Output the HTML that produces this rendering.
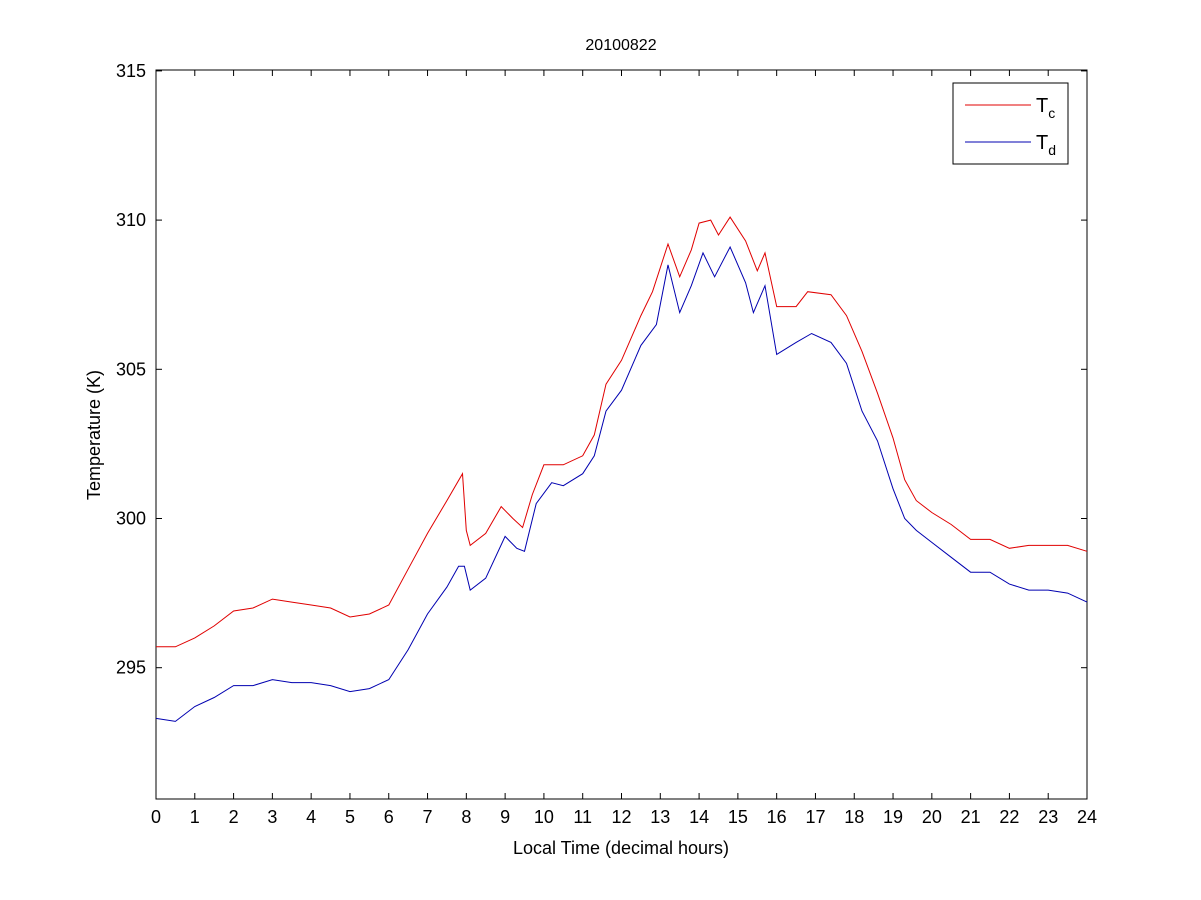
<!DOCTYPE html>
<html><head><meta charset="utf-8"><style>
body{margin:0;background:#fff;}
svg{display:block;font-family:"Liberation Sans",Arial,sans-serif;}
</style></head><body>
<svg id="chart" width="1201" height="900">
<rect x="0" y="0" width="1201" height="900" fill="#fff"/>
<rect x="156" y="70" width="931" height="729" fill="#fff" stroke="#000" stroke-width="1"/>
<g id="ticks"></g>
<g id="series"></g>
<text x="621" y="50" font-size="16" text-anchor="middle">20100822</text>
<text x="621" y="854" font-size="18" text-anchor="middle">Local Time (decimal hours)</text>
<text x="100" y="435" font-size="18" text-anchor="middle" transform="rotate(-90 100 435)">Temperature (K)</text>
<g>
<rect x="953" y="83" width="115" height="81" fill="#fff" stroke="#000"/>
<line x1="965" y1="105" x2="1031" y2="105" stroke="#e00000"/>
<text x="1036" y="112" font-size="20">T<tspan font-size="14" dy="6">c</tspan></text>
<line x1="965" y1="142" x2="1031" y2="142" stroke="#0000b0"/>
<text x="1036" y="149" font-size="20">T<tspan font-size="14" dy="6">d</tspan></text>
</g>
</svg>
<script>
const tcHours=[0,0.5,1,1.5,2,2.5,3,3.5,4,4.5,5,5.5,6,6.5,7,7.5,7.9,8.0,8.1,8.5,8.9,9.2,9.45,9.7,10,10.5,11,11.3,11.6,12,12.5,12.8,13.2,13.5,13.8,14,14.3,14.5,14.8,15.2,15.5,15.7,16,16.5,16.8,17.4,17.8,18.2,18.6,19,19.3,19.6,20,20.5,21,21.5,22,22.5,23,23.5,24];
const tcValues=[295.7,295.7,296.0,296.4,296.9,297.0,297.3,297.2,297.1,297.0,296.7,296.8,297.1,298.3,299.5,300.6,301.5,299.6,299.1,299.5,300.4,300.0,299.7,300.8,301.8,301.8,302.1,302.8,304.5,305.3,306.8,307.6,309.2,308.1,309.0,309.9,310.0,309.5,310.1,309.3,308.3,308.9,307.1,307.1,307.6,307.5,306.8,305.6,304.2,302.7,301.3,300.6,300.2,299.8,299.3,299.3,299.0,299.1,299.1,299.1,298.9];
const tdHours=[0,0.5,1,1.5,2,2.5,3,3.5,4,4.5,5,5.5,6,6.5,7,7.5,7.8,7.95,8.1,8.5,9.0,9.3,9.5,9.8,10.2,10.5,11,11.3,11.6,12,12.5,12.9,13.2,13.5,13.8,14.1,14.4,14.8,15.2,15.4,15.7,16,16.5,16.9,17.4,17.8,18.2,18.6,19,19.3,19.6,20,20.5,21,21.5,22,22.5,23,23.5,24];
const tdValues=[293.3,293.2,293.7,294.0,294.4,294.4,294.6,294.5,294.5,294.4,294.2,294.3,294.6,295.6,296.8,297.7,298.4,298.4,297.6,298.0,299.4,299.0,298.9,300.5,301.2,301.1,301.5,302.1,303.6,304.3,305.8,306.5,308.5,306.9,307.8,308.9,308.1,309.1,307.9,306.9,307.8,305.5,305.9,306.2,305.9,305.2,303.6,302.6,301.0,300.0,299.6,299.2,298.7,298.2,298.2,297.8,297.6,297.6,297.5,297.2];
const xTicks=[0,1,2,3,4,5,6,7,8,9,10,11,12,13,14,15,16,17,18,19,20,21,22,23,24];
const yTicks=[295,300,305,310,315];
const X0=156,X1=1087,Y0=799,Y1=70,XMIN=0,XMAX=24,YMIN=290.6,YMAX=315.03;
function xs(v){return X0+(v-XMIN)/(XMAX-XMIN)*(X1-X0);}
function ys(v){return Y0-(v-YMIN)/(YMAX-YMIN)*(Y0-Y1);}
const NS="http://www.w3.org/2000/svg";
const tg=document.getElementById('ticks');
xTicks.forEach(t=>{
  const x=xs(t);
  [[Y0,Y0-6],[Y1,Y1+6]].forEach(p=>{const l=document.createElementNS(NS,'line');l.setAttribute('x1',x);l.setAttribute('x2',x);l.setAttribute('y1',p[0]);l.setAttribute('y2',p[1]);l.setAttribute('stroke','#000');
  
  
  tg.appendChild(l);});
  const tx=document.createElementNS(NS,'text');tx.setAttribute('x',x);tx.setAttribute('y',Y0+24);tx.setAttribute('font-size','18');tx.setAttribute('text-anchor','middle');tx.textContent=t;
  
  
  tg.appendChild(tx);
});
yTicks.forEach(t=>{
  const y=ys(t);
  [[X0,X0+6],[X1,X1-6]].forEach(p=>{const l=document.createElementNS(NS,'line');l.setAttribute('y1',y);l.setAttribute('y2',y);l.setAttribute('x1',p[0]);l.setAttribute('x2',p[1]);l.setAttribute('stroke','#000');
  
  
  tg.appendChild(l);});
  const tx=document.createElementNS(NS,'text');tx.setAttribute('x',X0-10);tx.setAttribute('y',y+6);tx.setAttribute('font-size','18');tx.setAttribute('text-anchor','end');tx.textContent=t;
  
  
  tg.appendChild(tx);
});
const sg=document.getElementById('series');
function line(hs,vs,color,name){
  const p=document.createElementNS(NS,'polyline');
  p.setAttribute('points',hs.map((h,i)=>xs(h).toFixed(1)+','+ys(vs[i]).toFixed(1)).join(' '));
  p.setAttribute('fill','none');p.setAttribute('stroke',color);p.setAttribute('stroke-width','1');
  
  
  sg.appendChild(p);
}
line(tcHours,tcValues,'#e00000','series-tc');
line(tdHours,tdValues,'#0000b0','series-td');
</script>
</body></html>
